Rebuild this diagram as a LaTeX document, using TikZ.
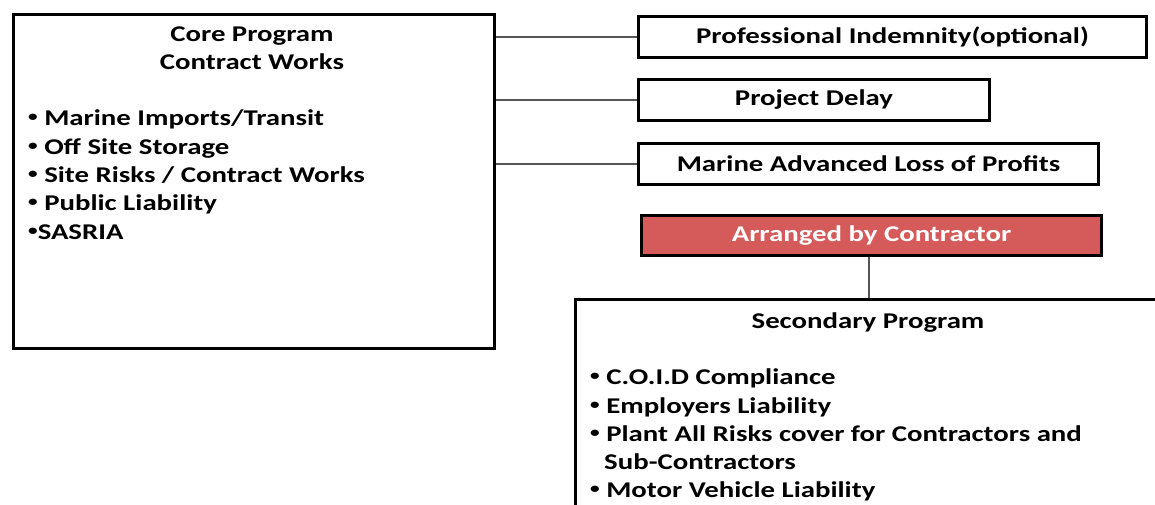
\documentclass[tikz,border=0pt]{standalone}
\usepackage{fontspec}
\setmainfont{Carlito}[FakeStretch=1.28]
\definecolor{boxred}{HTML}{D55B5B}
\definecolor{linegray}{HTML}{555555}
\newcommand{\bul}{\raisebox{4pt}{\fontsize{15}{15}\selectfont •}}
\begin{document}
\begin{tikzpicture}[x=1pt,y=-1pt,
  box/.style={draw=black,line width=3pt,fill=white,inner sep=0pt,anchor=north west},
  txt/.style={font=\bfseries\fontsize{22.5}{28}\selectfont,inner sep=0pt},
  conn/.style={draw=linegray,line width=1.6pt}]
\useasboundingbox (0,0) rectangle (1155,504);
\clip (0,0) rectangle (1155,504);
% core box
\node[box,minimum width=481pt,minimum height=334pt] (core) at (12,13) {};
\node[txt,anchor=base] (t1) at (252,41) {Core Program};
\node[txt,anchor=base] (t2) at (252,69) {Contract Works};
\node[txt,anchor=base west] (c1) at (28,125) {\bul\ Marine Imports/Transit};
\node[txt,anchor=base west] (c2) at (28,154) {\bul\ Off Site Storage};
\node[txt,anchor=base west] (c3) at (28,182) {\bul\ Site Risks / Contract Works};
\node[txt,anchor=base west] (c4) at (28,210) {\bul\ Public Liability};
\node[txt,anchor=base west] (c5) at (28,239) {\bul SASRIA};
% right boxes
\node[box,minimum width=508pt,minimum height=41pt] (pi) at (637,15) {};
\node[txt] at (pi.center) {Professional Indemnity(optional)};
\node[box,minimum width=351pt,minimum height=41pt] (pd) at (637,78) {};
\node[txt] at (pd.center) {Project Delay};
\node[box,minimum width=460pt,minimum height=41pt] (ml) at (637,142) {};
\node[txt] at (ml.center) {Marine Advanced Loss of Profits};
\node[box,fill=boxred,minimum width=460pt,minimum height=40pt] (ac) at (640,214) {};
\node[txt,text=white] at (ac.center) {Arranged by Contractor};
% secondary
\node[box,minimum width=600pt,minimum height=240pt] (sp) at (574,298) {};
\node[txt,anchor=base] (s0) at (868,328) {Secondary Program};
\node[txt,anchor=base west] (s1) at (590,384) {\bul\ C.O.I.D Compliance};
\node[txt,anchor=base west] (s2) at (590,413) {\bul\ Employers Liability};
\node[txt,anchor=base west] (s3) at (590,441) {\bul\ Plant All Risks cover for Contractors and};
\node[txt,anchor=base west] (s4) at (604,469) {Sub-Contractors};
\node[txt,anchor=base west] (s5) at (590,497) {\bul\ Motor Vehicle Liability};
% connectors
\draw[conn] (pi.west -| core.east) -- (pi.west);
\draw[conn] (pd.west -| core.east) -- (pd.west);
\draw[conn] (ml.west -| core.east) -- (ml.west);
\draw[conn] (ac.south -| 869,0) -- (sp.north -| 869,0);
\end{tikzpicture}
\end{document}
